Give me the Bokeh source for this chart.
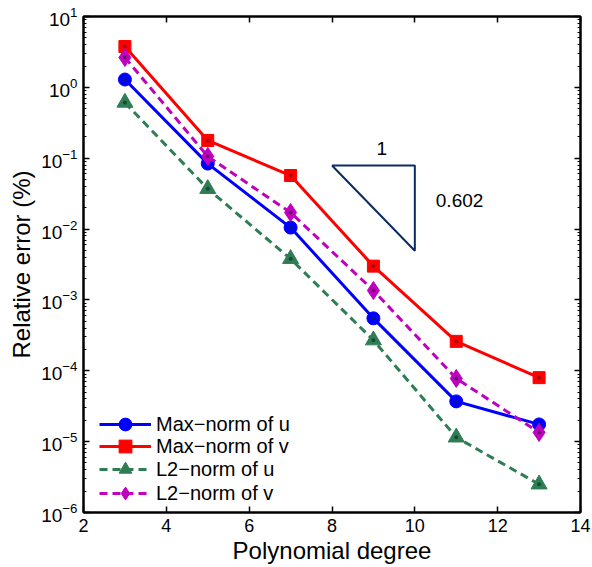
from bokeh.plotting import figure
from bokeh.models import (LogAxis, LinearAxis, FixedTicker, Legend, LegendItem,
                          Label, CustomJSTickFormatter)
from bokeh.embed import file_html
from bokeh.resources import INLINE

# ---- data ----
degree = [3, 5, 7, 9, 11, 13]
max_u = [1.29, 0.084, 0.0105, 5.5e-4, 3.7e-5, 1.75e-5]
max_v = [3.77, 0.178, 0.057, 3.0e-3, 2.6e-4, 8.0e-5]
l2_u = [0.61, 0.037, 0.0038, 2.7e-4, 1.15e-5, 2.5e-6]
l2_v = [2.64, 0.106, 0.0171, 1.36e-3, 7.8e-5, 1.35e-5]

x_ticks = [2, 4, 6, 8, 10, 12, 14]
y_ticks = [1e-6, 1e-5, 1e-4, 1e-3, 1e-2, 1e-1, 1e0, 1e1]

slope_x = [8, 10, 10, 8]
slope_y = [0.079, 0.079, 0.00494, 0.079]
run_label = "1"
rise_label = "0.602"
run_label_pos = (9.2, 0.137)
rise_label_pos = (11.08, 0.0253)

labels = ["Max\u2212norm of u", "Max\u2212norm of v", "L2\u2212norm of u", "L2\u2212norm of v"]
legend_row_offsets = [72, 50, 27, 3]   # px above frame bottom for each legend row

FONT = "Liberation Sans"
y_minor = [m * d for d in y_ticks[:-1] for m in range(2, 10)]

p = figure(width=592, height=567, x_range=(2, 14), y_range=(1e-6, 10),
           y_axis_type="log", output_backend="svg", toolbar_location=None,
           min_border_left=83, min_border_right=12, min_border_top=16,
           min_border_bottom=55)
p.xgrid.visible = False
p.ygrid.visible = False
p.outline_line_color = "black"
p.outline_line_width = 2
p.background_fill_color = "white"
p.border_fill_color = "white"

p.xaxis.ticker = FixedTicker(ticks=x_ticks)
p.yaxis.ticker = FixedTicker(ticks=y_ticks, minor_ticks=y_minor)

for ax in (p.xaxis[0], p.yaxis[0]):
    ax.axis_line_width = 2
    ax.major_tick_in = 6
    ax.major_tick_out = 0
    ax.minor_tick_in = 3
    ax.minor_tick_out = 0
    ax.major_tick_line_width = 1.5
    ax.minor_tick_line_width = 1
    ax.major_label_text_font = FONT
    ax.major_label_text_font_size = "18px"
    ax.major_label_text_color = "black"
    ax.axis_label_text_font = FONT
    ax.axis_label_text_font_size = "24px"
    ax.axis_label_text_font_style = "normal"
    ax.axis_label_text_color = "black"
p.xaxis.minor_tick_in = 0
p.xaxis.axis_label = "Polynomial degree"
p.yaxis.axis_label = "Relative error (%)"
p.yaxis.major_label_text_font_size = "19px"
p.xaxis.major_label_standoff = 6
p.xaxis.axis_label_standoff = 2
p.yaxis.major_label_standoff = 6
p.yaxis.axis_label_standoff = 3

blank = CustomJSTickFormatter(code="return ''")
top = LinearAxis(ticker=FixedTicker(ticks=x_ticks), formatter=blank,
                 major_tick_in=6, major_tick_out=0, minor_tick_in=0, minor_tick_out=0,
                 axis_line_width=2, major_tick_line_width=1.5,
                 major_label_text_font_size="1px")
right = LogAxis(ticker=FixedTicker(ticks=y_ticks, minor_ticks=y_minor), formatter=blank,
                major_tick_in=6, major_tick_out=0, minor_tick_in=3, minor_tick_out=0,
                axis_line_width=2, major_tick_line_width=1.5, minor_tick_line_width=1,
                major_label_text_font_size="1px")
p.add_layout(top, "above")
p.add_layout(right, "right")

BLUE = "#0000ff"
RED = "#ff0000"
GREEN = "#2e7d55"
MAG = "#bf00bf"

series = [
    (max_u, BLUE, "solid", "circle", 13, "#0a1a80"),
    (max_v, RED, "solid", "square", 12, "#a01010"),
    (l2_u, GREEN, "8 5", "triangle", 16, "#144a30"),
    (l2_v, MAG, "8 5", "diamond", 18, "#6a106a"),
]

for (vals, col, dash, mk, sz, dk), lab, off in zip(series, labels, legend_row_offsets):
    r1 = p.line(degree, vals, line_color=col, line_width=3, line_dash=dash)
    r2 = p.scatter(degree, vals, marker=mk, size=sz, fill_color=col, line_color=col)
    p.scatter(degree, vals, marker="circle", size=3, fill_color=dk, line_color=dk)
    lg = Legend(items=[LegendItem(label=lab, renderers=[r1, r2])],
                location=(16, off), padding=0, margin=0, spacing=0,
                glyph_width=52, glyph_height=32, label_height=32,
                label_standoff=5, label_text_font=FONT,
                label_text_font_size="20px", label_text_color="black",
                border_line_color=None, background_fill_alpha=0)
    p.add_layout(lg)

p.line(slope_x, slope_y, line_color="#0b2b66", line_width=2)
p.add_layout(Label(x=run_label_pos[0], y=run_label_pos[1], text=run_label,
                   text_font=FONT, text_font_size="19px", text_align="center",
                   text_baseline="middle", text_color="black"))
p.add_layout(Label(x=rise_label_pos[0], y=rise_label_pos[1], text=rise_label,
                   text_font=FONT, text_font_size="19px", text_align="center",
                   text_baseline="middle", text_color="black"))

open("out.html", "w").write(file_html(p, INLINE))
